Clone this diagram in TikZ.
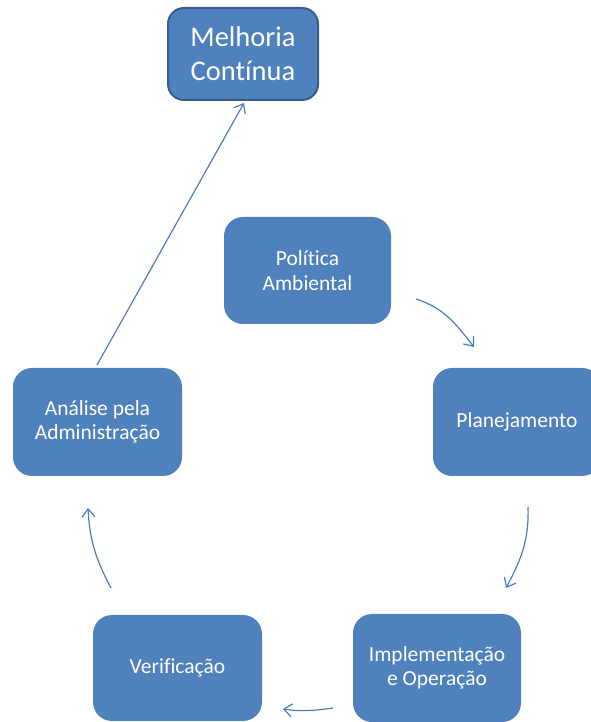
\documentclass[tikz,border=0pt]{standalone}
\usepackage{fontspec}
\setmainfont{Carlito}[Ligatures={NoCommon}]
\usetikzlibrary{arrows.meta}
\definecolor{boxblue}{HTML}{4F81BD}
\definecolor{boxedge}{HTML}{385D8A}
\definecolor{linkblue}{HTML}{4A7EBB}
\tikzset{
  stage/.style={fill=boxblue, draw=none, rounded corners=19pt, text=white,
    align=center, inner sep=0pt, font=\fontsize{21.5}{24.5}\selectfont},
  goal/.style={fill=boxblue, draw=boxedge, line width=2pt, rounded corners=16pt,
    text=white, align=center, inner sep=0pt, font=\fontsize{28.5}{34}\selectfont},
  link/.style={draw=linkblue, line width=1.2pt,
    -{Straight Barb[length=8pt,width=13pt,line width=1.2pt]}}
}
\begin{document}
\begin{tikzpicture}[x=1pt,y=1pt]
  \useasboundingbox (0,0) rectangle (590,722);
  % cycle stages
  \node[goal,  minimum width=150pt, minimum height=92pt]  (mel) at (243,668)   {Melhoria\\Contínua};
  \node[stage, minimum width=167pt, minimum height=107pt] (pol) at (307.5,451.5) {Política\\Ambiental};
  \node[stage, minimum width=168pt, minimum height=108pt] (pla) at (517,300)   {Planejamento};
  \node[stage, minimum width=168pt, minimum height=108pt] (imp) at (437,54)    {Implementação\\e Operação};
  \node[stage, minimum width=169pt, minimum height=106pt] (ver) at (177.5,54)  {Verificação};
  \node[stage, minimum width=169pt, minimum height=108pt] (ana) at (97.5,300)  {Análise pela\\Administração};
  % arrow end points
  \coordinate (a1s) at (416,423); \coordinate (a1e) at (474,375);
  \coordinate (a2s) at (528,215); \coordinate (a2e) at (506,134);
  \coordinate (a3s) at (333,14);  \coordinate (a3e) at (283,13);
  \coordinate (a4s) at (111,134); \coordinate (a4e) at (88,214);
  \coordinate (a5s) at (97,357);  \coordinate (a5e) at (244,619);
  % cycle arrows
  \draw[link] (a1s) to[out=-18, in=128] (a1e);
  \draw[link] (a2s) to[out=-88, in=62]  (a2e);
  \draw[link] (a3s) to[out=188, in=-8]  (a3e);
  \draw[link] (a4s) to[out=118, in=-87] (a4e);
  \draw[link] (a5s) -- (a5e);
\end{tikzpicture}
\end{document}
